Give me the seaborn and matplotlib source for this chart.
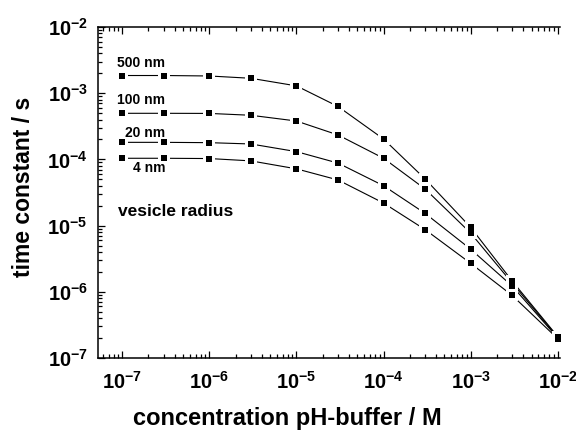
import numpy as np
import pandas as pd
import matplotlib
matplotlib.use("Agg")
import matplotlib.pyplot as plt
import seaborn as sns

# ---- data ----
conc = [1e-7, 3e-7, 1e-6, 3e-6, 1e-5, 3e-5, 1e-4, 3e-4, 1e-3, 3e-3, 1e-2]
tau_500 = [1.85e-3, 1.85e-3, 1.82e-3, 1.68e-3, 1.29e-3, 6.3e-4, 2.03e-4, 5.06e-5, 9.4e-6, 1.45e-6, 2.1e-7]
tau_100 = [4.97e-4, 4.97e-4, 4.95e-4, 4.64e-4, 3.8e-4, 2.34e-4, 1.04e-4, 3.57e-5, 7.7e-6, 1.35e-6, 2.05e-7]
tau_20 = [1.81e-4, 1.81e-4, 1.79e-4, 1.71e-4, 1.31e-4, 8.8e-5, 4.0e-5, 1.53e-5, 4.4e-6, 1.22e-6, 2.0e-7]
tau_4 = [1.04e-4, 1.04e-4, 1.03e-4, 9.5e-5, 7.2e-5, 4.89e-5, 2.19e-5, 8.7e-6, 2.69e-6, 8.8e-7, 1.95e-7]
radius_labels = ["500 nm", "100 nm", "20 nm", "4 nm"]
series = [tau_500, tau_100, tau_20, tau_4]

rows = []
for lab, ys in zip(radius_labels, series):
    for xv, yv in zip(conc, ys):
        rows.append({"radius": lab, "conc": xv, "tau": yv})
df = pd.DataFrame(rows)

sns.set_style("ticks")
plt.rcParams["font.family"] = ["Liberation Sans", "DejaVu Sans"]
plt.rcParams["font.weight"] = "bold"
plt.rcParams["axes.labelweight"] = "bold"
plt.rcParams["text.color"] = "black"
plt.rcParams["axes.labelcolor"] = "black"
plt.rcParams["xtick.color"] = "black"
plt.rcParams["ytick.color"] = "black"
plt.rcParams["xtick.labelcolor"] = "black"
plt.rcParams["ytick.labelcolor"] = "black"

fig = plt.figure(figsize=(5.76, 4.34), dpi=100)
ax = fig.add_axes([97.5/576, 1-358/434, (560-97.5)/576, (358-27)/434])

pal = {lab: "black" for lab in radius_labels}
sns.lineplot(data=df, x="conc", y="tau", hue="radius", palette=pal, sort=False,
             estimator=None, legend=False, linewidth=0.8, ax=ax, zorder=2)
sns.scatterplot(data=df, x="conc", y="tau", color="white", marker="s", s=85,
                linewidth=0, legend=False, ax=ax, zorder=3)
sns.scatterplot(data=df, x="conc", y="tau", color="black", marker="s", s=13,
                linewidth=0, legend=False, ax=ax, zorder=4)

ax.set_xscale("log")
ax.set_yscale("log")
ax.set_xlim(5.2e-8, 1.06e-2)
ax.set_ylim(1e-7, 1e-2)

ax.spines["right"].set_visible(False)
for sp in ["left", "top", "bottom"]:
    ax.spines[sp].set_linewidth(1.1)
    ax.spines[sp].set_color("black")

ax.xaxis.set_major_locator(matplotlib.ticker.LogLocator(base=10, numticks=20))
ax.xaxis.set_minor_locator(matplotlib.ticker.LogLocator(base=10, subs=np.arange(2, 10), numticks=20))
ax.yaxis.set_major_locator(matplotlib.ticker.LogLocator(base=10, numticks=20))
ax.yaxis.set_minor_locator(matplotlib.ticker.LogLocator(base=10, subs=np.arange(2, 10), numticks=20))
ax.xaxis.set_minor_formatter(matplotlib.ticker.NullFormatter())
ax.yaxis.set_minor_formatter(matplotlib.ticker.NullFormatter())

ax.tick_params(which="both", direction="in", top=True, right=False, left=True, bottom=True,
               color="black", labelcolor="black", width=0.9)
ax.tick_params(which="major", length=5)
ax.tick_params(which="minor", length=2.8)
ax.tick_params(axis="x", which="major", pad=9, labelsize=14.5)
ax.tick_params(axis="y", which="major", pad=7, labelsize=14.5)
for t in ax.get_xticklabels() + ax.get_yticklabels():
    t.set_fontweight("bold")

ax.set_xlabel("concentration pH-buffer / M", fontsize=17, fontweight="bold", color="black")
ax.set_ylabel("time constant / s", fontsize=16.5, fontweight="bold", color="black")
ax.xaxis.label.set_va("center")
ax.yaxis.label.set_va("center")
ax.xaxis.set_label_coords(287/576, 1-418/434, transform=fig.transFigure)
ax.yaxis.set_label_coords(23.5/576, 1-187/434, transform=fig.transFigure)

txt = dict(fontsize=10, fontweight="bold", ha="left", va="baseline", color="black")
ax.text(8.8e-8, 2.49e-3, "500 nm", **txt)
ax.text(8.8e-8, 6.79e-4, "100 nm", **txt)
ax.text(1.08e-7, 2.20e-4, "20 nm", **txt)
ax.text(1.33e-7, 6.45e-5, "4 nm", **txt)
ax.text(9.0e-8, 1.40e-5, "vesicle radius", fontsize=12.5, fontweight="bold",
        ha="left", va="baseline", color="black")

fig.savefig("out.png", dpi=100)
